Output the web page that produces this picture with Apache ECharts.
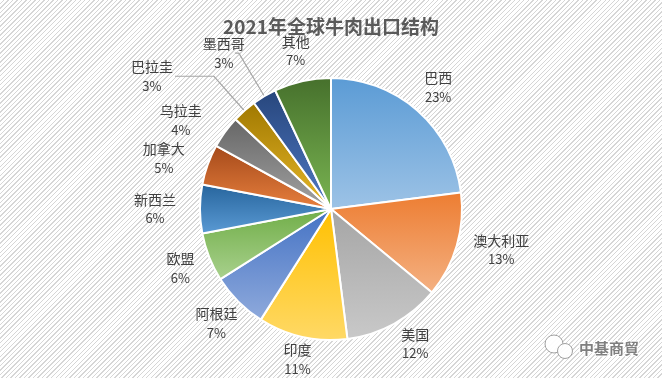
<!DOCTYPE html>
<html>
<head>
<meta charset="utf-8">
<script src="https://cdn.jsdelivr.net/npm/echarts@6/dist/echarts.min.js"></script>
<style>
html,body{margin:0;padding:0;}
#c{width:662px;height:378px;background:repeating-linear-gradient(135deg,#ffffff 0px,#ffffff 2.2px,#d6d6d6 2.2px,#d6d6d6 3.2px);}
</style>
</head>
<body>
<div id="c"></div>
<script>
// ---- data ----
var titleText = '2021年全球牛肉出口结构';
var categories = ['巴西','澳大利亚','美国','印度','阿根廷','欧盟','新西兰','加拿大','乌拉圭','巴拉圭','墨西哥','其他'];
var shares = [23,13,12,11,7,6,6,5,4,3,3,7];
var watermark = '中基商貿';

// ---- style ----
var topColors = ['#5b9bd5','#ed7d31','#a5a5a5','#ffc000','#4472c4','#70ad47','#26649c','#a4491a','#666666','#a07800','#27467c','#46702c'];
var bottomColors = ['#9dc3e6','#f4b183','#c9c9c9','#ffd966','#8faadc','#a9d18e','#5b9bd5','#e8803e','#a3a3a3','#e8b92a','#5079c4','#7ab552'];
var labelGroup = ['mid','out','out','near','mid','mid','far','out','out','line','line','mid'];
var ringRadius = {near:[144,158], mid:[152,166], far:[166,180]};
// [length, length2, distance] for labels placed by the main pie
var outLabel = {'澳大利亚':[16,0,28], '美国':[23,0,9], '加拿大':[18,0,26], '乌拉圭':[20,0,27], '巴拉圭':[46,39,22], '墨西哥':[50,4,10]};
var CX = 331, CY = 209, R = 131;
var font = '"Noto Sans CJK SC", "Microsoft YaHei", sans-serif';
var labelColor = '#404040';

var chart = echarts.init(document.getElementById('c'), null, {renderer:'canvas'});

var mainData = categories.map(function(n, i){
  var d = {
    name: n, value: shares[i],
    itemStyle: {color: {type:'linear', x:0, y:0, x2:0, y2:1,
      colorStops:[{offset:0,color:topColors[i]},{offset:1,color:bottomColors[i]}]}}
  };
  var g = labelGroup[i];
  if (g === 'line' || g === 'out') {
    var o = outLabel[n];
    d.label = {show:true, distanceToLabelLine:o[2]};
    d.labelLine = {show: g === 'line', length:o[0], length2:o[1]};
  }
  return d;
});

var series = [{
  type:'pie', center:[CX,CY], radius:R, startAngle:90, clockwise:true,
  avoidLabelOverlap:false, silent:true, animation:false,
  labelLayout:{hideOverlap:false},
  itemStyle:{borderColor:'#ffffff', borderWidth:2},
  label:{show:false, position:'outside', alignTo:'none',
    formatter:'{n|{b}}\n{p|{c}%}',
    rich:{
      n:{fontFamily:font, fontSize:14, color:labelColor, width:2, align:'center', lineHeight:19},
      p:{fontFamily:font, fontSize:13, color:labelColor, width:2, align:'center', lineHeight:19}
    }},
  labelLine:{show:false, smooth:false, lineStyle:{color:'#a6a6a6', width:1.2}},
  data: mainData
}];

['near','mid','far'].forEach(function(g){
  series.push({
    type:'pie', center:[CX,CY], radius:ringRadius[g], startAngle:90, clockwise:true,
    silent:true, animation:false, avoidLabelOverlap:false, minShowLabelAngle:0,
    labelLayout:{hideOverlap:false},
    itemStyle:{color:'rgba(0,0,0,0)', borderWidth:0},
    label:{position:'inside', formatter:'{n|{b}}\n{p|{c}%}',
      rich:{
        n:{fontFamily:font, fontSize:14, color:labelColor, lineHeight:19, align:'center'},
        p:{fontFamily:font, fontSize:13, color:labelColor, lineHeight:19, align:'center'}
      }},
    labelLine:{show:false},
    data: categories.map(function(n, i){
      return {name:n, value:shares[i], label:{show: labelGroup[i] === g}};
    })
  });
});

chart.setOption({
  animation:false,
  backgroundColor:'transparent',
  title:{text:titleText, left:'center', top:12,
    textStyle:{fontFamily:'"Noto Sans CJK SC", serif', fontSize:19, fontWeight:'bold', color:'#5a5a5a'}},
  series: series,
  graphic:[
    {type:'circle', shape:{cx:554, cy:344, r:9}, style:{fill:'rgba(255,255,255,0.95)', stroke:'#a0a0a0', lineWidth:1}},
    {type:'circle', shape:{cx:565, cy:351, r:7.5}, style:{fill:'rgba(255,255,255,0.95)', stroke:'#a0a0a0', lineWidth:1}},
    {type:'text', left:578, top:340, style:{text:watermark, fontFamily:font, fontSize:15, fontWeight:'bold',
      fill:'#7f7f7f', stroke:'#ffffff', lineWidth:2}}
  ]
});
</script>
</body>
</html>
